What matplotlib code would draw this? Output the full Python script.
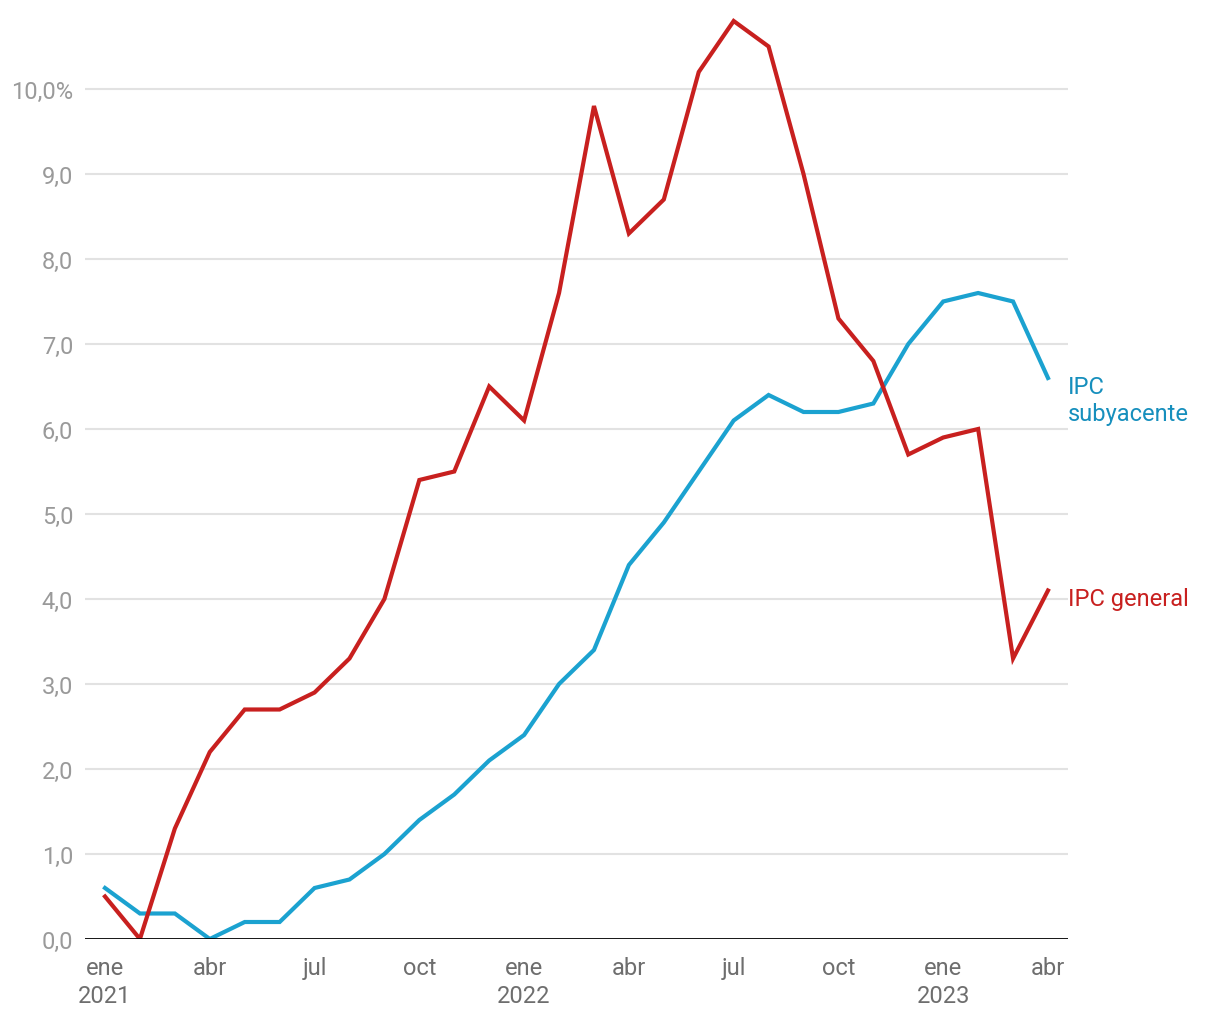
import matplotlib
matplotlib.use("Agg")
from matplotlib import pyplot as plt

plt.rcParams['font.family'] = ['Roboto', 'DejaVu Sans']

# monthly data, ene 2021 .. abr 2023
general = [0.5, 0.0, 1.3, 2.2, 2.7, 2.7, 2.9, 3.3, 4.0, 5.4, 5.5, 6.5,
           6.1, 7.6, 9.8, 8.3, 8.7, 10.2, 10.8, 10.5, 9.0, 7.3, 6.8, 5.7,
           5.9, 6.0, 3.3, 4.1]
subyacente = [0.6, 0.3, 0.3, 0.0, 0.2, 0.2, 0.6, 0.7, 1.0, 1.4, 1.7, 2.1,
              2.4, 3.0, 3.4, 4.4, 4.9, 5.5, 6.1, 6.4, 6.2, 6.2, 6.3, 7.0,
              7.5, 7.6, 7.5, 6.6]
tick_pos = [0, 3, 6, 9, 12, 15, 18, 21, 24, 27]
tick_labels = ['ene\n2021', 'abr', 'jul', 'oct', 'ene\n2022', 'abr', 'jul', 'oct', 'ene\n2023', 'abr']
y_ticks = [0, 1, 2, 3, 4, 5, 6, 7, 8, 9, 10]
y_labels = ['0,0', '1,0', '2,0', '3,0', '4,0', '5,0', '6,0', '7,0', '8,0', '9,0', '10,0%']

red = '#c8201f'
blue = '#1ba2d0'

fig = plt.figure(figsize=(12.2, 10.2), dpi=100)
ax = fig.add_axes([85 / 1220, 80 / 1020, (1068 - 85) / 1220, 935 / 1020])

x = list(range(len(general)))
ax.plot(x, subyacente, color=blue, linewidth=3, solid_joinstyle='miter', zorder=3)
ax.plot(x, general, color=red, linewidth=3, solid_joinstyle='miter', zorder=4)

ax.set_xlim(-0.573, 27.573)
ax.set_ylim(0, 11)

for v in y_ticks[1:]:
    ax.axhline(v, color='#e2e2e2', linewidth=1.5, zorder=1)
ax.axhline(0, color='black', linewidth=2, zorder=5)

ax.set_yticks(y_ticks)
ax.set_yticklabels(y_labels)
ax.set_xticks(tick_pos)
ax.set_xticklabels(tick_labels, linespacing=1.3)
ax.tick_params(axis='y', length=0, pad=8.5, labelsize=17, labelcolor='#9a9a9a')
ax.tick_params(axis='x', length=0, pad=12, labelsize=17, labelcolor='#6e6e6e')
for s in ax.spines.values():
    s.set_visible(False)

ax.text(1.0, 6.34, 'IPC\nsubyacente', transform=ax.get_yaxis_transform(),
        color='#168fbd', fontsize=17, va='center', ha='left', linespacing=1.2)
ax.text(1.0, 4.01, 'IPC general', transform=ax.get_yaxis_transform(),
        color=red, fontsize=17, va='center', ha='left')

fig.savefig('out.png', dpi=100)
